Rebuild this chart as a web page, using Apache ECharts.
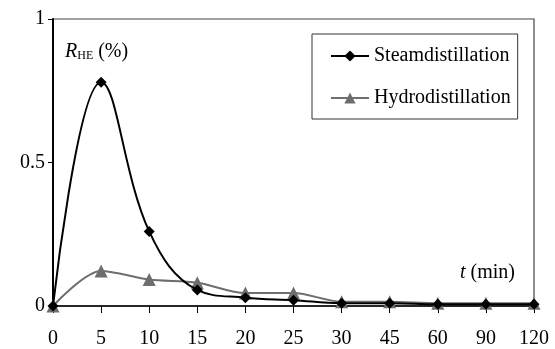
<!DOCTYPE html>
<html><head><meta charset="utf-8">
<script src="https://cdn.jsdelivr.net/npm/echarts@6/dist/echarts.min.js"></script>
<style>html,body{margin:0;padding:0;background:#fff}#c{width:555px;height:349px}</style>
</head><body><div id="c"></div>
<script>
const categories = ['0','5','10','15','20','25','30','45','60','90','120'];
const steam = [0, 0.78, 0.26, 0.056, 0.029, 0.02, 0.01, 0.01, 0.006, 0.006, 0.006];
const hydro = [0, 0.122, 0.092, 0.081, 0.045, 0.045, 0.015, 0.015, 0.01, 0.01, 0.01];
const yTicks = [0, 0.5, 1];
const F = 'Liberation Serif';
const chart = echarts.init(document.getElementById('c'), null, {renderer:'canvas'});
chart.setOption({
  animation:false,
  textStyle:{fontFamily:F},
  grid:{left:53, right:21, top:19, bottom:43, show:true, borderColor:'#444', borderWidth:1.2},
  xAxis:{type:'category', data:categories, boundaryGap:false,
    axisLine:{lineStyle:{color:'#000', width:1.5}},
    axisTick:{show:true, alignWithLabel:true, length:7, lineStyle:{color:'#000'}},
    axisLabel:{color:'#000', fontSize:20, fontFamily:F, margin:23}},
  yAxis:{type:'value', min:0, max:1, interval:0.5,
    splitLine:{show:false},
    axisLine:{show:true, lineStyle:{color:'#000', width:2}},
    axisTick:{show:true, length:5, lineStyle:{color:'#000'}},
    axisLabel:{color:'#000', fontSize:20, fontFamily:F, margin:8, formatter:v=>yTicks.includes(v)?String(v):''}},
  legend:{left:312, top:34, orient:'vertical', itemGap:22, itemWidth:38, itemHeight:14,
    padding:[12,7,11,18], borderColor:'#333', borderWidth:1,
    textStyle:{fontFamily:F, fontSize:20, color:'#000'},
    data:['Steamdistillation','Hydrodistillation']},
  series:[
    {name:'Steamdistillation', type:'line', data:steam, smooth:0.4, symbol:'diamond', symbolSize:11,
      itemStyle:{color:'#000'}, lineStyle:{color:'#000', width:2}, z:3},
    {name:'Hydrodistillation', type:'line', data:hydro, smooth:0.3, symbol:'triangle', symbolSize:13,
      itemStyle:{color:'#6e6e6e'}, lineStyle:{color:'#6e6e6e', width:2}, z:2}
  ],
  graphic:[
    {type:'text', left:65, top:42, style:{text:'{i|R}{s|HE}{n| (%)}', rich:{
      i:{fontFamily:F, fontStyle:'italic', fontSize:20, fill:'#000'},
      s:{fontFamily:F, fontSize:12, fill:'#000', verticalAlign:'bottom', padding:[8,0,0,0]},
      n:{fontFamily:F, fontSize:20, fill:'#000'}}}},
    {type:'text', left:460, top:263, style:{text:'{i|t}{n| (min)}', rich:{
      i:{fontFamily:F, fontStyle:'italic', fontSize:20, fill:'#000'},
      n:{fontFamily:F, fontSize:20, fill:'#000'}}}}
  ]
});
</script></body></html>
